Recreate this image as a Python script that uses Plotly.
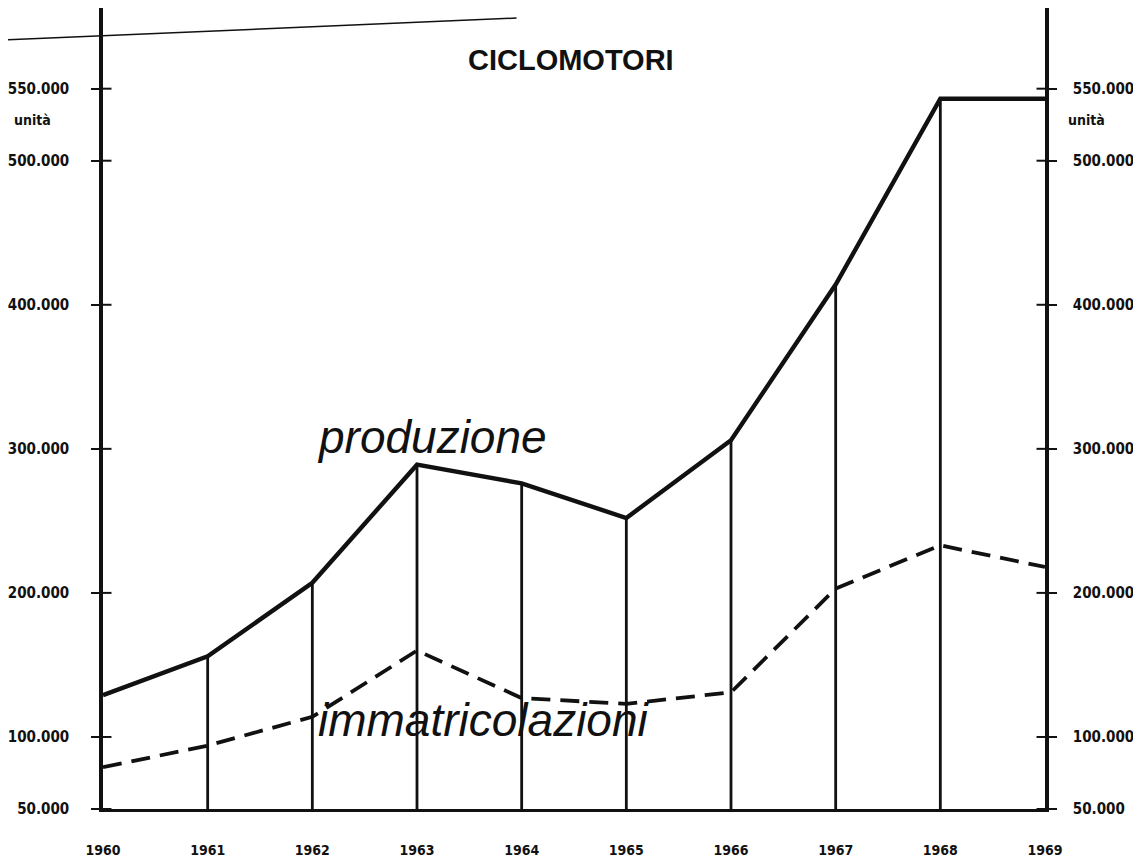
import plotly.graph_objects as go

years = [1960, 1961, 1962, 1963, 1964, 1965, 1966, 1967, 1968, 1969]
produzione = [129000, 156000, 207000, 289000, 276000, 252000, 306000, 414000, 543000, 543000]
immatricolazioni = [79000, 94000, 114000, 160000, 127000, 123000, 131000, 203000, 233000, 218000]
tick_vals = [50000, 100000, 200000, 300000, 400000, 500000, 550000]
tick_text = ["50.000", "100.000", "200.000", "300.000", "400.000", "500.000", "550.000"]
year_labels = [str(y) for y in years]

INK = "#111111"
fig = go.Figure()

# vertical drop lines from produzione points to the baseline
dx, dy = [], []
for yr, v in zip(years[1:-1], produzione[1:-1]):
    dx += [yr, yr, None]
    dy += [v, 50000, None]
fig.add_trace(go.Scatter(x=dx, y=dy, mode="lines", line=dict(color=INK, width=2.8),
                         hoverinfo="skip", showlegend=False))

fig.add_trace(go.Scatter(x=years, y=produzione, mode="lines", name="produzione",
                         line=dict(color=INK, width=4.4), showlegend=False))
fig.add_trace(go.Scatter(x=years, y=immatricolazioni, mode="lines", name="immatricolazioni",
                         line=dict(color=INK, width=3.8, dash="19px,10px"), showlegend=False))

# right axis helper trace (invisible) for right tick labels
fig.add_trace(go.Scatter(x=[years[0]], y=[50000], yaxis="y2", mode="markers",
                         marker=dict(opacity=0), hoverinfo="skip", showlegend=False))

tick_font = dict(family="DejaVu Sans Condensed", size=15, color=INK, weight="bold")
YR = [50000, 606000]

fig.update_layout(
    width=1141, height=863,
    margin=dict(l=92, r=104, t=0, b=62),
    paper_bgcolor="white", plot_bgcolor="white",
    xaxis=dict(range=[1960, 1969], tickvals=years, ticktext=year_labels,
               showgrid=False, zeroline=False, showline=True, linecolor=INK, linewidth=3,
               ticks="", ticklabelstandoff=26, tickfont=dict(family="DejaVu Sans Condensed", size=14,
                                                             color=INK, weight="bold")),
    yaxis=dict(range=YR, tickvals=tick_vals, ticktext=tick_text,
               showgrid=False, zeroline=False, showline=True, linecolor=INK, linewidth=3.5,
               ticks="outside", ticklen=8, tickwidth=2, tickcolor=INK,
               ticklabelstandoff=19, tickfont=tick_font),
    yaxis2=dict(range=YR, tickvals=tick_vals, ticktext=tick_text,
                overlaying="y", side="right", showgrid=False, zeroline=False,
                showline=True, linecolor=INK, linewidth=3.5,
                ticks="outside", ticklen=8, tickwidth=2, tickcolor=INK,
                ticklabelstandoff=13, tickfont=tick_font),
)

# inward half of the cross-shaped tick marks
shapes = []
for v in tick_vals:
    shapes.append(dict(type="line", xref="paper", yref="y", x0=0, x1=0.009, y0=v, y1=v,
                       line=dict(color=INK, width=2)))
    shapes.append(dict(type="line", xref="paper", yref="y", x0=0.991, x1=1, y0=v, y1=v,
                       line=dict(color=INK, width=2)))
# page-edge line at top left of the scan
shapes.append(dict(type="line", xref="paper", yref="paper", x0=-0.106, x1=0.439, y0=0.960, y1=0.9875,
                   line=dict(color=INK, width=1.5)))
fig.update_layout(shapes=shapes)

fig.add_annotation(text="CICLOMOTORI", xref="paper", yref="paper", x=0.497, y=0.935,
                   xanchor="center", yanchor="middle",
                   showarrow=False, font=dict(family="Liberation Sans", size=29, color=INK, weight="bold"))
fig.add_annotation(text="unità", xref="paper", yref="y", x=-0.097, y=528000,
                   xanchor="left", yanchor="middle",
                   showarrow=False, font=dict(family="DejaVu Sans Condensed", size=14, color=INK, weight="bold"))
fig.add_annotation(text="unità", xref="paper", yref="y", x=1.022, y=528000,
                   xanchor="left", yanchor="middle",
                   showarrow=False, font=dict(family="DejaVu Sans Condensed", size=14, color=INK, weight="bold"))
fig.add_annotation(text="produzione", xref="x", yref="y", x=1963.14, y=308000,
                   xanchor="center", yanchor="middle",
                   showarrow=False, font=dict(family="Liberation Sans", size=46, color=INK, style="italic"))
fig.add_annotation(text="immatricolazioni", xref="x", yref="y", x=1963.64, y=112000,
                   xanchor="center", yanchor="middle",
                   showarrow=False, font=dict(family="Liberation Sans", size=46, color=INK, style="italic"))

fig.write_html("out.html")
